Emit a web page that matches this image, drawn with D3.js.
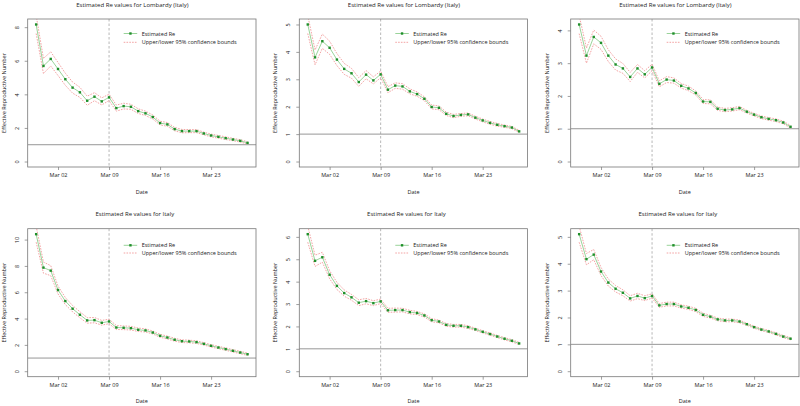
<!DOCTYPE html>
<html><head><meta charset="utf-8">
<script src="https://cdn.jsdelivr.net/npm/d3@7"></script>
<style>
body{margin:0;background:#fff}
svg{display:block}
text{font-family:"Open Sans",sans-serif;fill:#222}
</style></head><body>
<svg id="c" width="800" height="406"></svg>
<script>
const dates = ["2020-02-28","2020-02-29","2020-03-01","2020-03-02","2020-03-03","2020-03-04","2020-03-05","2020-03-06","2020-03-07","2020-03-08",
"2020-03-09","2020-03-10","2020-03-11","2020-03-12","2020-03-13","2020-03-14","2020-03-15","2020-03-16","2020-03-17","2020-03-18",
"2020-03-19","2020-03-20","2020-03-21","2020-03-22","2020-03-23","2020-03-24","2020-03-25","2020-03-26","2020-03-27","2020-03-28"];
const titles = ["Estimated Re values for Lombardy (Italy)","Estimated Re values for Lombardy (Italy)","Estimated Re values for Lombardy (Italy)",
"Estimated Re values for Italy","Estimated Re values for Italy","Estimated Re values for Italy"];

const mean1 = [8.16,5.69,6.11,5.51,4.90,4.40,4.12,3.62,3.86,3.58,3.82,3.18,3.30,3.26,3.00,2.87,2.65,2.29,2.21,1.93,1.81,1.81,1.81,1.67,1.55,1.47,1.39,1.31,1.23,1.11];
const lower1 = [7.62,5.24,5.69,5.12,4.54,4.07,3.82,3.35,3.62,3.37,3.63,3.00,3.13,3.11,2.86,2.74,2.53,2.18,2.10,1.83,1.71,1.72,1.72,1.59,1.47,1.39,1.31,1.24,1.16,1.04];
const upper1 = [8.70,6.14,6.53,5.90,5.26,4.73,4.42,3.89,4.10,3.79,4.01,3.36,3.47,3.41,3.14,3.00,2.77,2.40,2.32,2.03,1.91,1.90,1.90,1.75,1.63,1.55,1.47,1.38,1.30,1.18];

const mean2 = [5.00,3.80,4.39,4.15,3.72,3.38,3.22,2.90,3.17,2.96,3.18,2.62,2.77,2.74,2.56,2.46,2.29,1.99,1.96,1.74,1.66,1.70,1.72,1.60,1.50,1.41,1.34,1.29,1.24,1.10];
const lower2 = [4.67,3.53,4.13,3.91,3.50,3.18,3.04,2.74,3.02,2.83,3.06,2.51,2.67,2.64,2.47,2.38,2.22,1.92,1.89,1.68,1.60,1.65,1.67,1.55,1.45,1.36,1.29,1.25,1.20,1.06];
const upper2 = [5.33,4.07,4.65,4.39,3.94,3.58,3.40,3.06,3.32,3.09,3.30,2.73,2.87,2.84,2.65,2.54,2.36,2.06,2.03,1.80,1.72,1.75,1.77,1.65,1.55,1.46,1.39,1.33,1.28,1.14];

const mean3 = [4.18,3.23,3.80,3.62,3.23,2.96,2.84,2.58,2.84,2.66,2.87,2.37,2.50,2.47,2.31,2.23,2.09,1.83,1.82,1.61,1.57,1.59,1.63,1.52,1.43,1.35,1.30,1.26,1.19,1.06];
const lower3 = [3.90,3.00,3.59,3.42,3.05,2.79,2.69,2.44,2.72,2.55,2.77,2.28,2.41,2.39,2.24,2.16,2.03,1.77,1.76,1.56,1.52,1.54,1.58,1.48,1.39,1.31,1.26,1.22,1.15,1.02];
const upper3 = [4.46,3.46,4.01,3.82,3.41,3.13,2.99,2.72,2.96,2.77,2.97,2.46,2.59,2.55,2.38,2.30,2.15,1.89,1.88,1.66,1.62,1.64,1.68,1.56,1.47,1.39,1.34,1.30,1.23,1.10];

const mean4 = [10.41,7.87,7.64,6.17,5.33,4.75,4.29,3.86,3.88,3.68,3.78,3.32,3.30,3.27,3.15,3.10,2.94,2.69,2.56,2.39,2.28,2.26,2.21,2.08,1.93,1.80,1.68,1.55,1.42,1.29];
const lower4 = [9.80,7.45,7.26,5.87,5.06,4.51,4.06,3.65,3.68,3.50,3.61,3.17,3.16,3.13,3.02,2.98,2.83,2.58,2.45,2.28,2.18,2.16,2.11,1.99,1.84,1.71,1.59,1.46,1.33,1.20];
const upper4 = [11.02,8.29,8.02,6.47,5.60,4.99,4.52,4.07,4.08,3.86,3.95,3.47,3.44,3.41,3.28,3.22,3.05,2.80,2.67,2.50,2.38,2.36,2.31,2.17,2.02,1.89,1.77,1.64,1.51,1.38];

const mean5 = [6.12,4.93,5.09,4.31,3.81,3.49,3.30,3.06,3.13,3.04,3.12,2.72,2.73,2.73,2.64,2.60,2.49,2.28,2.22,2.07,2.03,2.03,1.97,1.87,1.76,1.66,1.55,1.45,1.36,1.24];
const lower5 = [5.76,4.68,4.87,4.13,3.65,3.35,3.17,2.93,3.01,2.93,3.02,2.63,2.64,2.65,2.56,2.53,2.42,2.21,2.16,2.01,1.97,1.97,1.91,1.82,1.71,1.61,1.50,1.40,1.31,1.19];
const upper5 = [6.48,5.18,5.31,4.49,3.97,3.63,3.43,3.19,3.25,3.15,3.22,2.81,2.82,2.81,2.72,2.67,2.56,2.35,2.28,2.13,2.09,2.09,2.03,1.92,1.81,1.71,1.60,1.50,1.41,1.29];

const mean6 = [5.10,4.17,4.34,3.71,3.30,3.07,2.92,2.71,2.80,2.72,2.80,2.45,2.50,2.50,2.41,2.36,2.28,2.10,2.03,1.93,1.89,1.89,1.85,1.75,1.64,1.55,1.48,1.39,1.29,1.21];
const lower6 = [4.80,3.96,4.15,3.56,3.17,2.95,2.81,2.61,2.70,2.63,2.72,2.38,2.43,2.43,2.35,2.30,2.22,2.04,1.98,1.88,1.84,1.84,1.80,1.71,1.60,1.51,1.44,1.35,1.25,1.17];
const upper6 = [5.40,4.38,4.53,3.86,3.43,3.19,3.03,2.81,2.90,2.81,2.88,2.52,2.57,2.57,2.47,2.42,2.34,2.16,2.08,1.98,1.94,1.94,1.90,1.79,1.68,1.59,1.52,1.43,1.33,1.25];

const yTicks1 = [0,2,4,6,8];
const yTicks2 = [0,1,2,3,4,5];
const yTicks3 = [0,1,2,3,4];
const yTicks4 = [0,2,4,6,8,10];
const yTicks5 = [0,1,2,3,4,5,6];
const yTicks6 = [0,1,2,3,4,5];
const xTickDates = ["2020-03-02","2020-03-09","2020-03-16","2020-03-23"];
const markerDate = "2020-03-09";
const refLevel = 1;
const legendLabels = ["Estimated Re","Upper/lower 95% confidence bounds"];
const xLabel = "Date";
const yLabel = "Effective Reproductive Number";

const panels = [
  {title:titles[0], mean:mean1, lower:lower1, upper:upper1, ticks:yTicks1},
  {title:titles[1], mean:mean2, lower:lower2, upper:upper2, ticks:yTicks2},
  {title:titles[2], mean:mean3, lower:lower3, upper:upper3, ticks:yTicks3},
  {title:titles[3], mean:mean4, lower:lower4, upper:upper4, ticks:yTicks4},
  {title:titles[4], mean:mean5, lower:lower5, upper:upper5, ticks:yTicks5},
  {title:titles[5], mean:mean6, lower:lower6, upper:upper6, ticks:yTicks6}
];

const parse = d3.timeParse("%Y-%m-%d");
const D = dates.map(parse);
const boxLefts = [27.7, 299.3, 570.7];
const boxTops = [19, 228.7];
const W = 228.3, H = 148;
const fs = 5.5;
const ps = 2.4;
const svg = d3.select("#c");

panels.forEach((p, i) => {
  const col = i % 3, row = Math.floor(i / 3);
  const L = boxLefts[col], T = boxTops[row];
  const g = svg.append("g");
  const d0 = D[0], d1 = D[D.length-1], span = d1 - d0;
  const x = d3.scaleTime().domain([new Date(+d0 - 0.04*span), new Date(+d1 + 0.04*span)]).range([L, L+W]);
  const ymax = d3.max(p.mean);
  const y = d3.scaleLinear().domain([-0.04*ymax, 1.04*ymax]).range([T+H, T]);

  const cid = "clip"+i;
  svg.append("clipPath").attr("id", cid).append("rect").attr("x", L).attr("y", T).attr("width", W).attr("height", H);
  const pg = g.append("g").attr("clip-path", `url(#${cid})`);

  pg.append("line").attr("x1", L).attr("x2", L+W).attr("y1", y(refLevel)).attr("y2", y(refLevel))
    .attr("stroke", "#8a8a8a").attr("stroke-width", 0.9);
  pg.append("line").attr("x1", x(parse(markerDate))).attr("x2", x(parse(markerDate))).attr("y1", T).attr("y2", T+H)
    .attr("stroke", "#9a9a9a").attr("stroke-width", 0.7).attr("stroke-dasharray", "2.5,2");

  const line = arr => d3.line().x((d, j) => x(D[j])).y(d => y(d))(arr);
  [p.lower, p.upper].forEach(arr => {
    pg.append("path").attr("d", line(arr)).attr("fill", "none")
      .attr("stroke", "#f29a9a").attr("stroke-width", 0.9).attr("stroke-dasharray", "1.6,1.2");
  });
  pg.append("path").attr("d", line(p.mean)).attr("fill", "none")
    .attr("stroke", "#80c880").attr("stroke-width", 0.8);
  pg.selectAll("rect.pt").data(p.mean).enter().append("rect").attr("class", "pt")
    .attr("x", (d, j) => x(D[j]) - ps/2).attr("y", d => y(d) - ps/2).attr("width", ps).attr("height", ps)
    .attr("fill", "#1f8f2a");

  g.append("rect").attr("x", L).attr("y", T).attr("width", W).attr("height", H)
    .attr("fill", "none").attr("stroke", "#777").attr("stroke-width", 0.8);

  const xa = g.append("g").attr("transform", `translate(0,${T+H})`)
    .call(d3.axisBottom(x).tickValues(xTickDates.map(parse)).tickFormat(d3.timeFormat("%b %d")).tickSize(3).tickPadding(3));
  xa.select(".domain").remove();
  xa.selectAll("line").attr("stroke", "#777").attr("stroke-width", 0.7);
  xa.selectAll("text").attr("font-size", fs).attr("font-family", '"Open Sans",sans-serif').attr("fill", "#222");

  const ya = g.append("g").attr("transform", `translate(${L},0)`)
    .call(d3.axisLeft(y).tickValues(p.ticks).tickFormat(d3.format("d")).tickSize(3));
  ya.select(".domain").remove();
  ya.selectAll("line").attr("stroke", "#777").attr("stroke-width", 0.7);
  ya.selectAll("text").attr("font-size", fs).attr("font-family", '"Open Sans",sans-serif').attr("fill", "#222")
    .attr("x", null).attr("dy", null).attr("text-anchor", "middle").attr("dominant-baseline", "central")
    .attr("transform", "translate(-11,0) rotate(-90)");

  g.append("text").attr("x", L + W/2 - (row === 0 ? 9.5 : 7)).attr("y", T - 14 + (row === 0 ? 0 : -0.4))
    .attr("text-anchor", "middle").attr("dominant-baseline", "central").attr("font-size", 6).text(p.title);
  g.append("text").attr("x", L + W/2).attr("y", T + H + 24.5)
    .attr("text-anchor", "middle").attr("dominant-baseline", "central").attr("font-size", fs).text(xLabel);
  g.append("text").attr("transform", `translate(${L-24},${T+H/2}) rotate(-90)`)
    .attr("text-anchor", "middle").attr("dominant-baseline", "central").attr("font-size", fs).text(yLabel);

  const ly1 = T + (row === 0 ? 14.5 : 16.6), ly2 = T + (row === 0 ? 23.3 : 24.3);
  const lx0 = L + 96, lx1 = L + 109.5, tx = L + 114;
  g.append("line").attr("x1", lx0).attr("x2", lx1).attr("y1", ly1).attr("y2", ly1).attr("stroke", "#80c880").attr("stroke-width", 0.8);
  g.append("rect").attr("x", (lx0+lx1)/2 - ps/2).attr("y", ly1 - ps/2).attr("width", ps).attr("height", ps).attr("fill", "#1f8f2a");
  g.append("line").attr("x1", lx0).attr("x2", lx1).attr("y1", ly2).attr("y2", ly2).attr("stroke", "#f29a9a").attr("stroke-width", 0.9).attr("stroke-dasharray", "1.6,1.2");
  g.append("text").attr("x", tx).attr("y", ly1).attr("dominant-baseline", "central").attr("font-size", fs).text(legendLabels[0]);
  g.append("text").attr("x", tx).attr("y", ly2).attr("dominant-baseline", "central").attr("font-size", fs).text(legendLabels[1]);
});
</script>
</body></html>
